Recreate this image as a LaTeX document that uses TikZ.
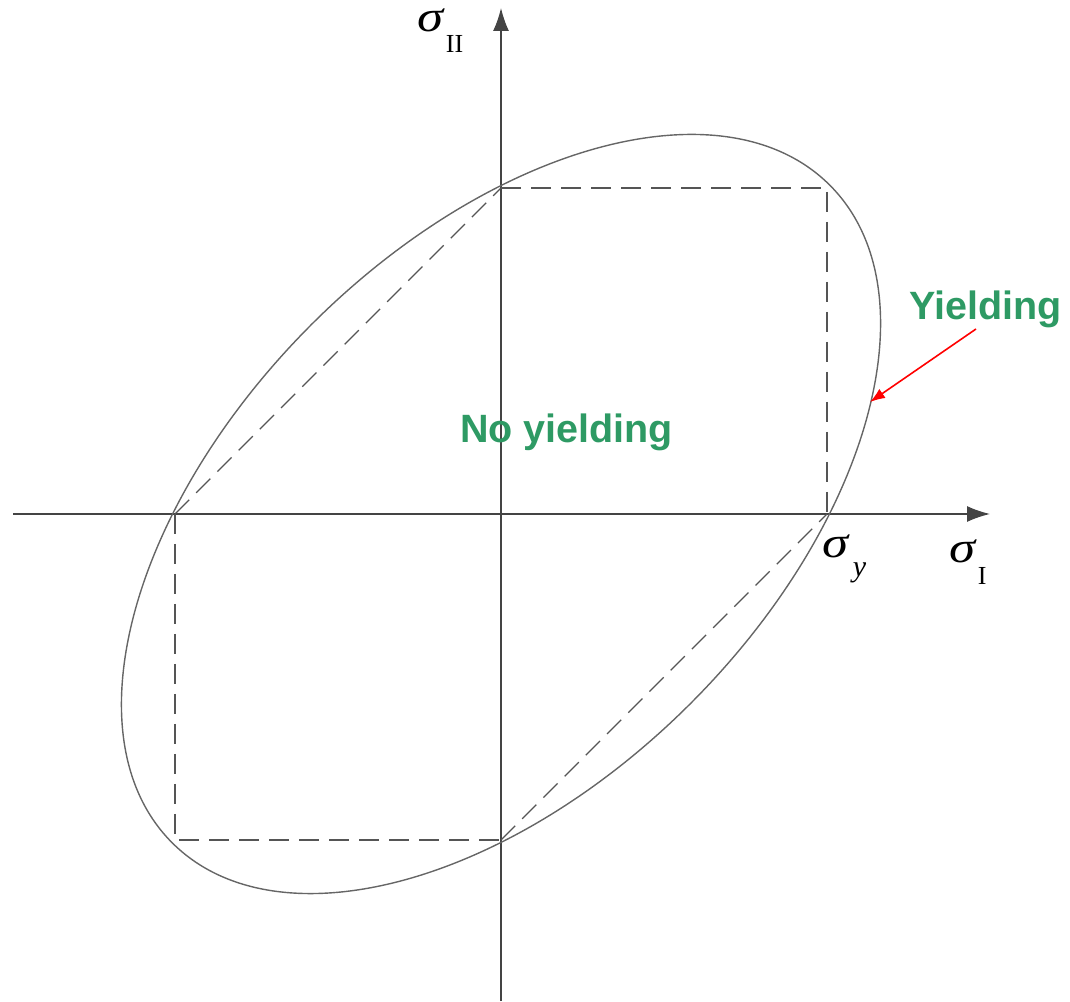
\documentclass[tikz,border=0pt]{standalone}
\usepackage{fontspec}
\usepackage{graphicx}
\setmainfont{Liberation Serif}
\newfontfamily\lblfont{Liberation Sans}
\usetikzlibrary{arrows.meta}
\definecolor{axisgray}{HTML}{444444}
\definecolor{ellgray}{HTML}{666666}
\definecolor{dashgray}{HTML}{555555}
\definecolor{lblgreen}{HTML}{2E9A64}
\tikzset{
  axisline/.style={draw=axisgray, line width=1.4pt, -{Latex[length=23pt,width=16pt]}},
  yieldcurve/.style={draw=ellgray, line width=1.4pt},
  guideline/.style={draw=dashgray, line width=1.4pt, dash pattern=on 20pt off 10pt},
  greenlabel/.style={text=lblgreen, font=\lblfont\bfseries\fontsize{39.5}{40}\selectfont, inner sep=0pt, anchor=base west},
  mathlabel/.style={inner sep=0pt, anchor=base west, font=\fontsize{44}{44}\selectfont},
  pointer/.style={draw=red, line width=1.6pt, -{Latex[length=15pt,width=11pt]}}
}
\newcommand{\sgm}{\scalebox{1.2}[1]{\textit{σ}}}
\newcommand{\sublbl}[3]{\raisebox{-#1pt}{\fontsize{#3}{#3}\selectfont #2}}
\begin{document}
\begin{tikzpicture}[x=1pt,y=1pt]
\useasboundingbox (0,0) rectangle (1070,1001);
% key points
\coordinate (O) at (501,487);
\coordinate (xpos) at (827,487);
\coordinate (xneg) at (175,487);
\coordinate (ypos) at (501,813);
\coordinate (yneg) at (501,161);
\coordinate (tr) at (827,813);
\coordinate (bl) at (175,161);
\coordinate (xstart) at (13,487);
\coordinate (xend) at (990,487);
\coordinate (ystart) at (501,0);
\coordinate (yend) at (501,993);
% axes
\draw[axisline] (xstart) -- (xend);
\draw[axisline] (ystart) -- (yend);
% ellipse (von Mises)
\draw[yieldcurve, rotate around={45:(O)}] (O) ellipse [x radius=465pt, y radius=268pt];
% dashed hexagon (Tresca)
\draw[guideline] (ypos) -- (tr) -- (xpos);
\draw[guideline] (xneg) -- (bl) -- (yneg);
\draw[guideline] (xneg) -- (ypos);
\draw[guideline] (yneg) -- (xpos);
% labels
\node[mathlabel] (s2) at (417,969) {\sgm\kern1pt\sublbl{21}{II}{26}};
\node[mathlabel] (sy) at (822,443) {\sgm\kern3pt\sublbl{19}{\textit{y}}{30}};
\node[mathlabel] (s1) at (949,438) {\sgm\kern1pt\sublbl{22}{I}{26}};
\node[greenlabel] (yl) at (909,681) {Yielding};
\node[greenlabel] (ny) at (460,558) {No yielding};
\coordinate (arrstart) at (976,672);
\coordinate (arrtip) at (870,599);
\draw[pointer] (arrstart) -- (arrtip);
\end{tikzpicture}
\end{document}
